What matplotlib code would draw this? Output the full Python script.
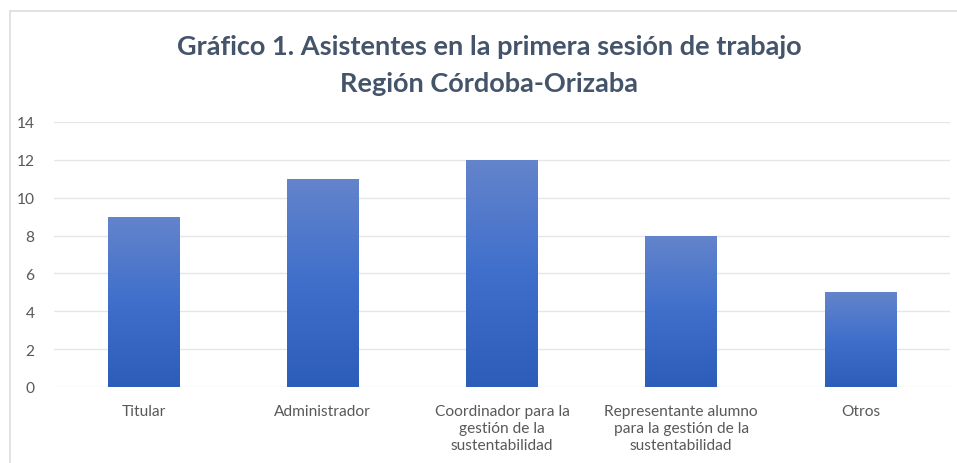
import numpy as np
import matplotlib.pyplot as plt
from matplotlib.colors import LinearSegmentedColormap
from matplotlib.patches import Rectangle

categories = ['Titular', 'Administrador',
              'Coordinador para la\ngestión de la\nsustentabilidad',
              'Representante alumno\npara la gestión de la\nsustentabilidad',
              'Otros']
values = [9, 11, 12, 8, 5]
yticks = [0, 2, 4, 6, 8, 10, 12, 14]

plt.rcParams['font.family'] = ['Lato', 'DejaVu Sans']

fig = plt.figure(figsize=(9.57, 4.64), dpi=100)
fig.patches.append(Rectangle((10 / 957, -0.1), 1.2, 1 - 12 / 464 + 0.1,
                             transform=fig.transFigure, fill=False,
                             edgecolor='#d9dde3', linewidth=1.2))
ax = fig.add_axes([54 / 957, 1 - 388 / 464, 896 / 957, (388 - 123) / 464])

x = np.arange(len(categories))
cmap = LinearSegmentedColormap.from_list('grad', ['#2c5db8', '#3f6fcb', '#6484cb'])
grad = np.linspace(0, 1, 256).reshape(-1, 1)
bars = ax.bar(x, values, width=0.4, color='#4a75c8', linewidth=0, zorder=2)
for b in bars:
    x0, w, h = b.get_x(), b.get_width(), b.get_height()
    im = ax.imshow(grad, cmap=cmap, origin='lower', aspect='auto',
                   interpolation='bilinear', extent=[x0, x0 + w, 0, h], zorder=2.5)
    im.set_clip_path(b)

ax.set_xlim(-0.5, len(categories) - 0.5)
ax.set_ylim(0, 14)
ax.set_yticks(yticks)
ax.set_xticks(x)
ax.set_xticklabels(categories, fontsize=11.2, color='#595959', linespacing=1.3)
ax.tick_params(axis='y', labelsize=11.2, labelcolor='#595959', length=0, pad=14)
ax.tick_params(axis='x', length=0, pad=12)
ax.grid(axis='y', color='#e4e6ea', linewidth=1, zorder=0)
for s in ax.spines.values():
    s.set_visible(False)

fig.text(0.511, 1 - 47 / 464, 'Gráfico 1. Asistentes en la primera sesión de trabajo',
         ha='center', va='center', fontsize=19.5, fontweight='bold', color='#44546a')
fig.text(0.511, 1 - 84 / 464, 'Región Córdoba-Orizaba',
         ha='center', va='center', fontsize=19.5, fontweight='bold', color='#44546a')

fig.savefig('out.png', dpi=100)
